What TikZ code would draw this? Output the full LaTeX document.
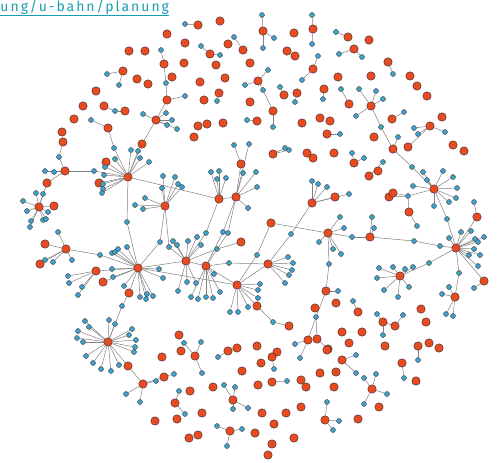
\documentclass[tikz,border=0pt]{standalone}
\usepackage{fontspec}
\setmainfont{Fira Sans}
\newfontfamily\urlfont[LetterSpace=14]{Fira Sans}
\usetikzlibrary{backgrounds}

\definecolor{orn}{RGB}{233,74,32}
\definecolor{blu}{RGB}{58,163,206}
\definecolor{rim}{RGB}{72,52,48}
\definecolor{urlc}{RGB}{24,158,178}
\tikzset{
  onode/.style={circle,draw=rim,fill=orn,line width=0.5pt,inner sep=0pt,minimum size=8.4pt},
  bnode/.style={circle,draw=rim,fill=blu,line width=0.4pt,inner sep=0pt,minimum size=5pt},
  link/.style={draw=black!50,line width=0.5pt}
}
% leaves round one centre: names <centre>-1, <centre>-2, ...
\newcommand{\fan}[3][bnode]{%
  \foreach \px/\py [count=\k] in {#3}{
    \node[#1] (#2-\k) at (\px,\py) {};
    \begin{scope}[on background layer]
      \draw[link] (#2) -- (#2-\k);
    \end{scope}
  }}

\begin{document}
\begin{tikzpicture}[x=1pt,y=-1pt]
\useasboundingbox (0,0) rectangle (501,463);

% address line
\node[anchor=base west,inner sep=0pt,text=urlc,font=\urlfont\fontsize{14}{16}\selectfont] (addr) at (0.3,11.8) {ung/u-bahn/planung};
\draw[urlc,line width=0.8pt] ([yshift=-3.2pt]addr.base west) -- ([yshift=-3.2pt]addr.base east);

% hubs
\foreach \n/\px/\py in {h1/128/177,h2/165/206,h3/138/268,h4/186/261,h5/206/266,h6/237/285,
  h7/219/199,h8/236/197,h9/268/264,h10/312/203,h11/328/233,h12/370/237,h13/456/248,
  h14/434/189,h15/400/276,h16/108/342,h17/66/249,h18/96/271,h19/39/207,h20/156/120,
  h21/371/106,h22/455/297}
  \node[onode] (\n) at (\px,\py) {};

% named red nodes
\foreach \n/\px/\py in {o1/142/144,o2/241/242,o3/271/223,o4/326/291,o5/389/197,o6/393/193,
  o7/409/212,o8/393/149,o9/129/293,o10/63/142,o11/167/100,o12/164/64,o13/47/183,
  o14/128/366,o15/143/384,o16/164/377,o17/484/281,o18/477/217,o19/241/164,o20/257/306,
  o21/289/326,o22/308/340,o23/317/339,o24/328/349,o25/408/147,o26/125/111,o27/237/348,
  o28/277/352,o29/106/162,o30/99/183,o31/103/282,o32/335/197,o33/45/244,o34/40/264,
  o35/54/206,
  g1/65/171,g2/263/31,g3/313/29,g4/348/37,g5/354/49,g6/313/69,g7/388/62,g8/284/95,
  g9/297/93,g10/324/89,g11/349/104,g12/430/126,g13/392/119,g14/258/81,g15/273/111,
  g16/257/121,g17/273/154,g18/354/163,g19/327/134,g20/369/176,g21/210/54,g22/243/50,
  g23/198/25,g24/123/71,g25/108/128,g26/104/106,g27/219/93,g28/195/356,g29/228/351,
  g30/272/357,g31/272/382,g32/175/403,g33/233/400,g34/230/431,g35/358/312,g36/383/322,
  g37/395/326,g38/342/360,g39/372/389,g40/402/363,g41/418/346,g42/325/420}
  \node[onode] (\n) at (\px,\py) {};

% blue nodes between two others
\foreach \n/\px/\py in {c1/94/171,c2/127/222,c3/160/242,c4/169/247,c5/206/233,c6/223/232,
  c7/217/249,c8/229/263,c9/257/255,c10/291/234,c11/352/237,c12/414/241,c13/440/246,
  c14/329/264,c15/447/219,c16/429/263,c17/459/273,c18/408/196,c19/412/167,c20/381/127,
  c21/122/306,c22/100/255,c23/59/157,c24/166/83,c25/161/50,c26/273/322,c27/316/317,
  c28/115/111,c29/263/90,c30/114/148,c31/228/233}
  \node[bnode] (\n) at (\px,\py) {};

% red nodes on their own
\foreach \px/\py [count=\k] in {220/21,167/34,185/43,228/44,294/33,369/40,287/51,295/56,
  129/51,145/51,184/63,216/65,250/63,137/79,148/84,172/77,200/82,225/78,96/91,83/106,
  74/119,62/132,204/100,250/102,194/137,198/126,207/124,223/123,338/77,371/76,410/76,
  417/86,427/96,302/123,320/118,330/121,374/137,442/117,453/145,464/151,307/153,313/158,
  334/153,378/171,179/335,181/351,162/357,257/346,261/363,242/371,213/387,258/385,
  301/380,306/387,190/391,155/421,177/419,202/413,189/438,198/435,262/413,286/413,
  301/407,255/433,274/424,294/438,272/444,268/455,358/419,379/407,416/381,342/332,
  362/332,349/343,327/350,385/346,429/343,439/348,421/309,426/322,336/303,315/308,
  336/372,334/387,320/373}
  \node[onode] (s\k) at (\px,\py) {};

% leaves
\fan{h1}{131/150,138/151,140/158,149/162,115/159,105/167,104/175,103/184,103/189,102/193}
\fan{h2}{163/176,162/188,175/177,178/184,182/187,145/198,135/205,143/209}
\fan{h3}{112/253,115/252,118/249,127/247,112/269,113/277,124/286,140/297,147/294,146/299,153/296,159/269,163/278}
\fan{h4}{173/241,177/245,188/241,197/237,201/245,178/291,187/282,196/283}
\fan{h5}{214/274,220/292,213/298,206/297,198/299,191/297}
\fan{h6}{260/284,258/290,258/298,248/307,238/312,230/312}
\fan{h7}{211/172,219/171,217/179,226/178}
\fan{h8}{243/173,256/172,257/187,248/208,249/144}
\fan{h9}{288/257,293/263,292/270,289/275,285/283}
\fan{h10}{312/181,318/184,327/187,349/194}
\fan{h11}{340/217,344/228,319/242,333/249,341/254}
\fan{h12}{372/217,374/228}
\fan{h13}{449/238,461/232,471/231,475/239,478/242,484/237,474/249,480/255,469/255,478/266}
\fan{h14}{413/186,427/180,423/172,443/171,453/177,457/188,456/198,449/202,434/206}
\fan{h15}{393/267,405/269,413/267,379/268,377/278,384/290,398/297,409/287}
\fan{h16}{85/321,89/327,109/320,115/324,78/331,77/338,83/342,132/329,129/335,136/340,135/347,134/352,86/356,93/363,101/369,111/371,119/365}
\fan{h17}{58/232,45/260,53/262,72/260}
\fan{h18}{68/276,69/283,82/287,78/295}
\fan{h19}{36/193,43/194,23/201,27/211,31/221,30/227,43/220,46/219,48/212}
\fan{h20}{143/114,166/113,172/120,177/129,167/125}
\fan{h21}{359/89,376/91,383/99,356/116}
\fan{h22}{449/287,442/294,446/314,453/316}
\fan{o4}{338/291}
\fan{o7}{417/226}
\fan{o8}{398/137}
\fan{o11}{185/96}
\fan{o15}{126/394,140/402,156/381}
\fan{o16}{174/374}
\fan{o17}{474/288}
\fan{o18}{474/202}
\fan{o19}{234/145}
\fan{o22}{295/344,300/358}
\fan{g1}{45/171,54/172}
\fan{g2}{262/15,274/38,263/48}
\fan{g3}{312/15,312/44}
\fan{g4}{336/32}
\fan{g5}{339/54,362/57}
\fan{g6}{318/56,302/80}
\fan{g7}{393/74}
\fan{g8}{280/87}
\fan{g9}{295/102}
\fan{g10}{323/99}
\fan{g11}{341/89}
\fan{g12}{445/132,418/134,414/128}
\fan{g13}{404/112}
\fan{g14}{268/70,245/85}
\fan{g15}{273/127}
\fan{g16}{247/120}
\fan{g17}{285/148,289/150}
\fan{g18}{352/153,364/158}
\fan{g19}{340/134}
\fan{g20}{383/162}
\fan{g21}{201/46,220/55}
\fan{g22}{234/37}
\fan{g23}{185/24}
\fan{g24}{107/74,119/85}
\fan{g25}{91/120}
\fan{g27}{217/101}
\fan{g28}{184/343,201/342,202/373}
\fan{g29}{218/357}
\fan{g30}{274/369}
\fan{g31}{287/381}
\fan{g32}{179/391,185/414}
\fan{g33}{224/385,235/387,233/409,248/408}
\fan{g34}{217/426,242/429,227/446}
\fan{g35}{353/301}
\fan{g36}{377/314,383/335}
\fan{g37}{403/315}
\fan{g38}{356/355,356/373}
\fan{g39}{364/378,376/374,387/394,364/404}
\fan{g40}{404/378}
\fan{g41}{418/360}
\fan{g42}{327/402,339/421,333/430}

% links
\begin{scope}[on background layer]
\foreach \a/\b in {h1/o1,o1/h20,h1/c1,c1/g1,g1/o13,o13/h19,g1/c23,c23/o10,h1/c2,c2/h3,
  h1/h7,h1/c30,c30/g25,h1/o29,h1/o30,h2/c3,c3/h3,h2/c4,c4/h4,h3/h4,h4/h5,h5/h6,h3/h6,
  h3/h18,h3/o9,h3/o31,o9/c21,c21/h16,h17/c22,c22/h3,h17/o33,h17/o34,h19/o35,h7/h8,
  h7/c5,c5/h4,h8/c6,c6/h5,h8/c31,c31/h5,h4/c7,c7/o2,h5/c8,c8/h9,h6/h9,h6/c9,c9/o3,
  o3/h11,h9/c10,c10/h10,h10/o32,h11/c11,c11/h12,h12/c12,c12/c13,c13/h13,h11/c14,c14/o4,
  h13/c15,c15/h14,h13/c16,c16/h15,h13/c17,c17/h22,h13/o17,h13/o18,h14/c18,c18/o5,
  c18/o6,c18/o7,h14/c19,c19/o8,h21/c20,c20/o8,o25/g12,h20/o11,o11/c24,c24/o12,o12/c25,
  h8/o19,h6/o20,o20/c26,c26/o21,o4/c27,c27/o22,c27/o23,o23/o24,h16/o14,o14/o15,o15/o16,
  g14/c29,c29/g15,g26/c28,c28/o26,g29/o27,g30/o28,g36/g37}
  \draw[link] (\a) -- (\b);
\end{scope}
\end{tikzpicture}
\end{document}
